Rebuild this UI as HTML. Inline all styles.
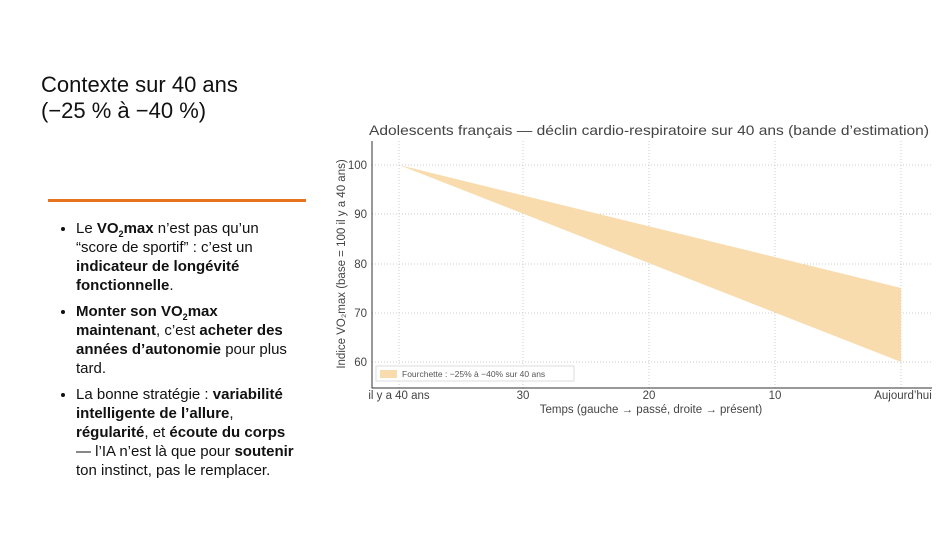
<!DOCTYPE html>
<html><head><meta charset="utf-8"><style>
body{margin:0;width:951px;height:535px;background:#fff;font-family:"Liberation Sans",sans-serif;position:relative;overflow:hidden;color:#222}
.t{position:absolute;left:41px;top:72px;font-size:22px;line-height:26px;color:#111}
.hr{position:absolute;left:48px;top:199px;width:258px;height:3px;background:#e8731f}
ul{position:absolute;left:56px;top:219px;margin:0;padding:0 0 0 20px;width:228px;font-size:15px;line-height:19px;color:#111}
li{margin-bottom:7px}
sub{font-size:9px;line-height:0}
</style></head><body>
<div class="t">Contexte sur 40 ans<br>(−25 % à −40 %)</div>
<div class="hr"></div>
<ul>
<li>Le <b>VO<sub>2</sub>max</b> n’est pas qu’un “score de sportif” : c’est un <b>indicateur de longévité fonctionnelle</b>.</li>
<li><b>Monter son VO<sub>2</sub>max maintenant</b>, c’est <b>acheter des années d’autonomie</b> pour plus tard.</li>
<li>La bonne stratégie : <b>variabilité intelligente de l’allure</b>, <b>régularité</b>, et <b>écoute du corps</b> — l’IA n’est là que pour <b>soutenir</b> ton instinct, pas le remplacer.</li>
</ul>
<svg width="951" height="535" style="position:absolute;left:0;top:0" font-family="Liberation Sans,sans-serif">
<text x="369" y="135" font-size="14" fill="#444" textLength="560" lengthAdjust="spacingAndGlyphs">Adolescents français — déclin cardio-respiratoire sur 40 ans (bande d’estimation)</text>
<g stroke="#ccc" stroke-dasharray="1,2" stroke-width="1">
<line x1="399" y1="141" x2="399" y2="388"/><line x1="523" y1="141" x2="523" y2="388"/><line x1="649" y1="141" x2="649" y2="388"/><line x1="775" y1="141" x2="775" y2="388"/><line x1="901" y1="141" x2="901" y2="388"/>
<line x1="372" y1="165" x2="932" y2="165"/><line x1="372" y1="214" x2="932" y2="214"/><line x1="372" y1="264" x2="932" y2="264"/><line x1="372" y1="313" x2="932" y2="313"/><line x1="372" y1="362" x2="932" y2="362"/>
</g>
<polygon points="399,165 901,288 901,362" fill="#f9dcae"/>
<polyline points="372,141 372,388 932,388" fill="none" stroke="#333" stroke-width="1"/>
<g font-size="11.5" fill="#444" text-anchor="end">
<text x="367" y="169">100</text><text x="367" y="218">90</text><text x="367" y="268">80</text><text x="367" y="317">70</text><text x="367" y="366">60</text>
</g>
<g font-size="11.5" fill="#444" text-anchor="middle">
<text x="399" y="399">il y a 40 ans</text><text x="523" y="399">30</text><text x="649" y="399">20</text><text x="775" y="399">10</text><text x="903" y="399">Aujourd’hui</text>
<text x="651" y="413">Temps (gauche → passé, droite → présent)</text>
<text transform="translate(345,264) rotate(-90)">Indice VO₂max (base = 100 il y a 40 ans)</text>
</g>
<rect x="376" y="366" width="198" height="15" fill="#fff" stroke="#ddd"/>
<rect x="380" y="370" width="17" height="8" fill="#f9dcae"/>
<text x="402" y="377" font-size="8.5" fill="#555">Fourchette : −25% à −40% sur 40 ans</text>
</svg>
</body></html>
